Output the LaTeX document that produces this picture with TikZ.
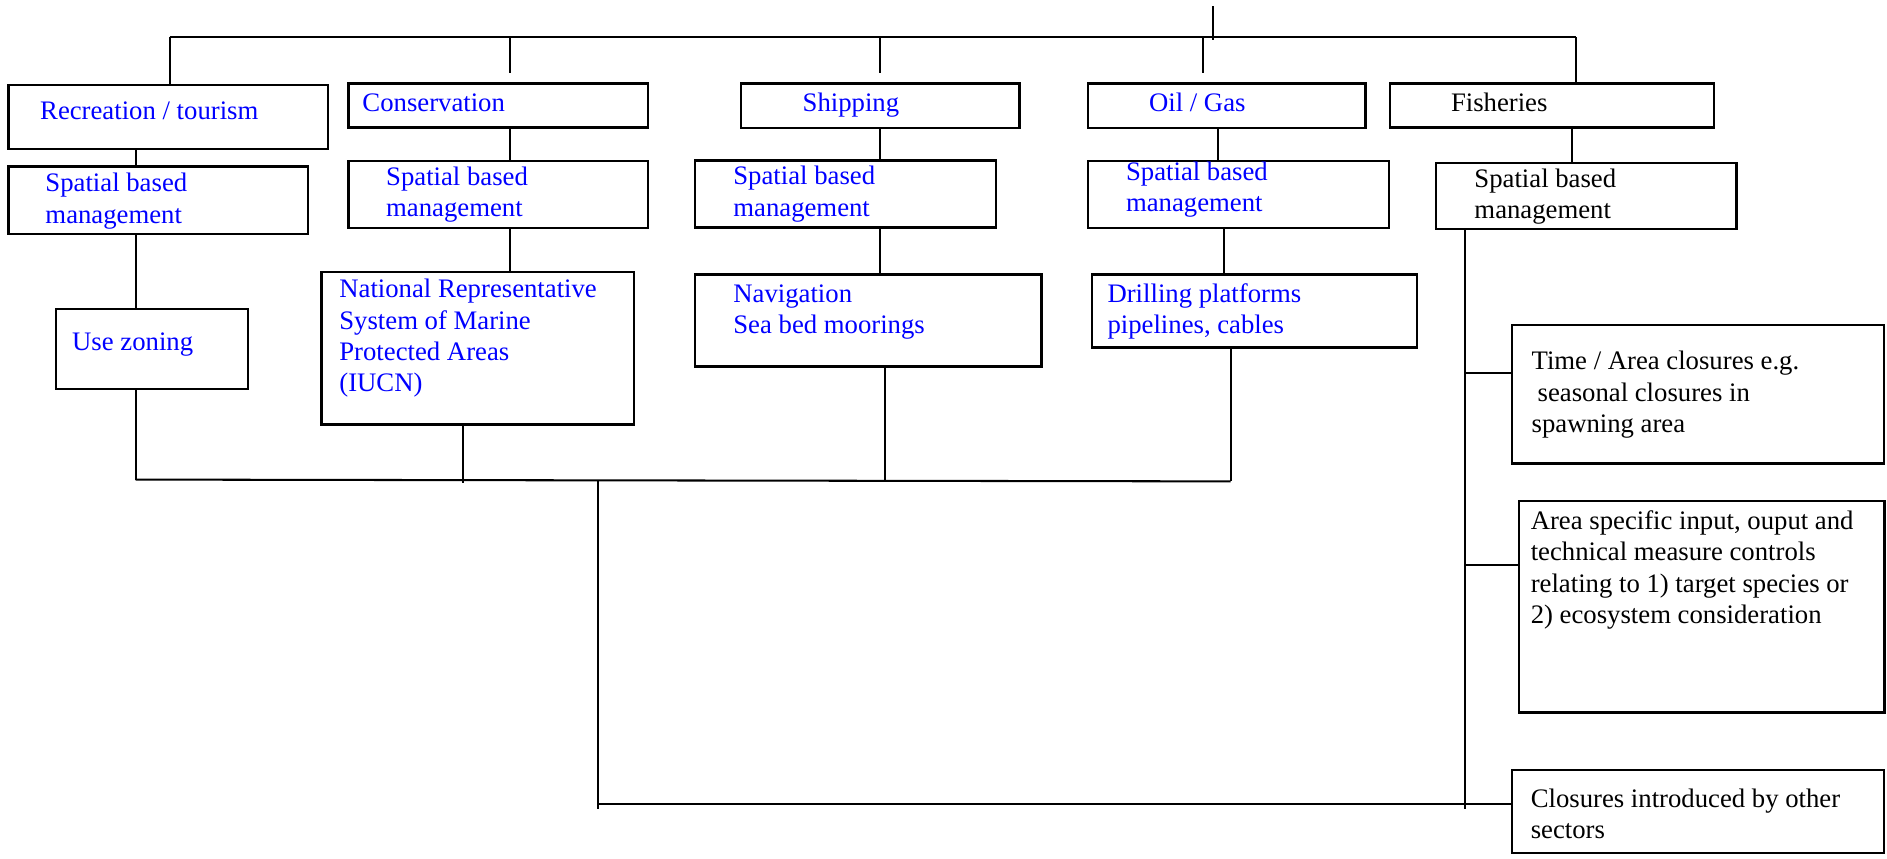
\documentclass[tikz,border=0pt]{standalone}
\usepackage{fontspec}
\setmainfont{Liberation Serif}
\begin{document}
\begin{tikzpicture}[x=1pt,y=-1pt,
  box/.style={draw=black, line width=2pt, inner sep=0pt, outer sep=0pt, anchor=north west},
  txt/.style={anchor=base west, inner sep=0pt, outer sep=0pt, align=left, font=\fontsize{22.2}{26}\selectfont},
  bl/.style={txt, text=blue},
  bk/.style={txt, text=black},
  conn/.style={draw=black, line width=1.7pt}]
\useasboundingbox (0,0) rectangle (1568,713);

% ---- boxes ----
\node[box, minimum width=265.5pt, minimum height=53.5pt] (rec)   at (7,70.5) {};
\node[box, minimum width=249pt,   minimum height=36.5pt] (cons)  at (289.5,69.5) {};
\node[box, minimum width=231.5pt, minimum height=37pt]   (ship)  at (615.5,69.5) {};
\node[box, minimum width=230.5pt, minimum height=37pt]   (oil)   at (904,69.5) {};
\node[box, minimum width=269pt,   minimum height=36.5pt] (fish)  at (1155,69.5) {};
\node[box, minimum width=249pt,   minimum height=56pt]   (sp1)   at (7,138.5) {};
\node[box, minimum width=249pt,   minimum height=55.5pt] (sp2)   at (289.5,134) {};
\node[box, minimum width=250pt,   minimum height=55.7pt] (sp3)   at (577.5,133.5) {};
\node[box, minimum width=250pt,   minimum height=55.7pt] (sp4)   at (904,133.8) {};
\node[box, minimum width=250pt,   minimum height=55.3pt] (sp5)   at (1193,135.2) {};
\node[box, minimum width=159.5pt, minimum height=66.3pt] (zon)   at (46.5,257) {};
\node[box, minimum width=260pt,   minimum height=126.6pt] (nrs)  at (267,226) {};
\node[box, minimum width=288pt,   minimum height=76.7pt] (nav)   at (577.5,228) {};
\node[box, minimum width=269.7pt, minimum height=60.6pt] (drill) at (907.5,228) {};
\node[box, minimum width=308.8pt, minimum height=115pt]  (time)  at (1256.5,270) {};
\node[box, minimum width=304pt,   minimum height=175.7pt] (area) at (1262,416.3) {};
\node[box, minimum width=308.8pt, minimum height=69pt]   (clos)  at (1256.5,640) {};

% ---- texts (multi-line nodes are placed by the baseline of their last line) ----
\node[bl] (trec)   at (33.4,98.9)   {Recreation / tourism};
\node[bl] (tcons)  at (301.2,92.8)  {Conservation};
\node[bl] (tship)  at (667,92.8)    {Shipping};
\node[bl] (toil)   at (954.8,92.8)  {Oil / Gas};
\node[bk] (tfish)  at (1205.7,92.8) {Fisheries};
\node[bl] (tsp1)   at (37.8,185.3)  {Spatial based\\management};
\node[bl] (tsp2)   at (320.9,180)   {Spatial based\\management};
\node[bl] (tsp3)   at (609.4,179.5) {Spatial based\\management};
\node[bl] (tsp4)   at (935.7,175.9) {Spatial based\\management};
\node[bk] (tsp5)   at (1225.2,181.4){Spatial based\\management};
\node[bl] (tzon)   at (60,291.4)    {Use zoning};
\node[bl] (tnrs)   at (282,325.5)   {National Representative\\System of Marine\\Protected Areas\\(IUCN)};
\node[bl] (tnav)   at (609.4,277)   {Navigation\\Sea bed moorings};
\node[bl] (tdrill) at (920.3,277)   {Drilling platforms\\pipelines, cables};
\node[bk] (ttime)  at (1272.7,359.3){Time / Area closures e.g.\\\hspace*{5pt}seasonal closures in\\spawning area};
\node[bk] (tarea)  at (1272,518)    {Area specific input, ouput and\\technical measure controls\\relating to 1) target species or\\2) ecosystem consideration};
\node[bk] (tclos)  at (1272,696.6)  {Closures introduced by other\\sectors};

% ---- top tree ----
\coordinate (rootT) at (1007.7,5);
\coordinate (rootB) at (1007.7,33);
\coordinate (busL) at (141,31);
\coordinate (busR) at (1309.6,31);
\draw[conn] (rootT) -- (rootB);
\draw[conn] (busL) -- (busR);
\draw[conn] (busL) -- (busL |- rec.north);
\coordinate (d2) at (423.7,61);
\coordinate (d3) at (731.3,61);
\coordinate (d4) at (1000,61);
\draw[conn] (d2 |- busL) -- (d2);
\draw[conn] (d3 |- busL) -- (d3);
\draw[conn] (d4 |- busL) -- (d4);
\draw[conn] (busR) -- (busR |- fish.north);

% ---- columns ----
\coordinate (c1) at (112.8,0);
\coordinate (c2) at (423.7,0);
\coordinate (c3) at (731.3,0);
\coordinate (c4) at (1012,0);
\coordinate (c4b) at (1017,0);
\coordinate (c5) at (1306,0);
\draw[conn] (c1 |- rec.south)  -- (c1 |- sp1.north);
\draw[conn] (c2 |- cons.south) -- (c2 |- sp2.north);
\draw[conn] (c3 |- ship.south) -- (c3 |- sp3.north);
\draw[conn] (c4 |- oil.south)  -- (c4 |- sp4.north);
\draw[conn] (c5 |- fish.south) -- (c5 |- sp5.north);
\draw[conn] (c1 |- sp1.south)  -- (c1 |- zon.north);
\draw[conn] (c2 |- sp2.south)  -- (c2 |- nrs.north);
\draw[conn] (c3 |- sp3.south)  -- (c3 |- nav.north);
\draw[conn] (c4b |- sp4.south) -- (c4b |- drill.north);

% ---- bottom bus ----
\coordinate (bbL) at (112.8,398.5);
\coordinate (bbR) at (1022.5,400);
\draw[conn] (bbL) -- (bbR);
\draw[conn] (bbL |- zon.south) -- (bbL);
\coordinate (e2) at (384.5,401);
\draw[conn] (e2 |- nrs.south) -- (e2);
\coordinate (e3) at (735.5,400);
\draw[conn] (e3 |- nav.south) -- (e3);
\draw[conn] (bbR |- drill.south) -- (bbR);
\coordinate (dT) at (497,399);
\coordinate (dB) at (497,672);
\draw[conn] (dT) -- (dB);
\coordinate (bh) at (497,668);
\draw[conn] (bh) -- (bh -| clos.west);

% ---- fisheries branch ----
\coordinate (fB) at (1217.5,672);
\draw[conn] (fB |- sp5.south) -- (fB);
\coordinate (b1) at (1217.5,309.7);
\draw[conn] (b1) -- (b1 -| time.west);
\coordinate (b2) at (1217.5,469.5);
\draw[conn] (b2) -- (b2 -| area.west);
\end{tikzpicture}
\end{document}
